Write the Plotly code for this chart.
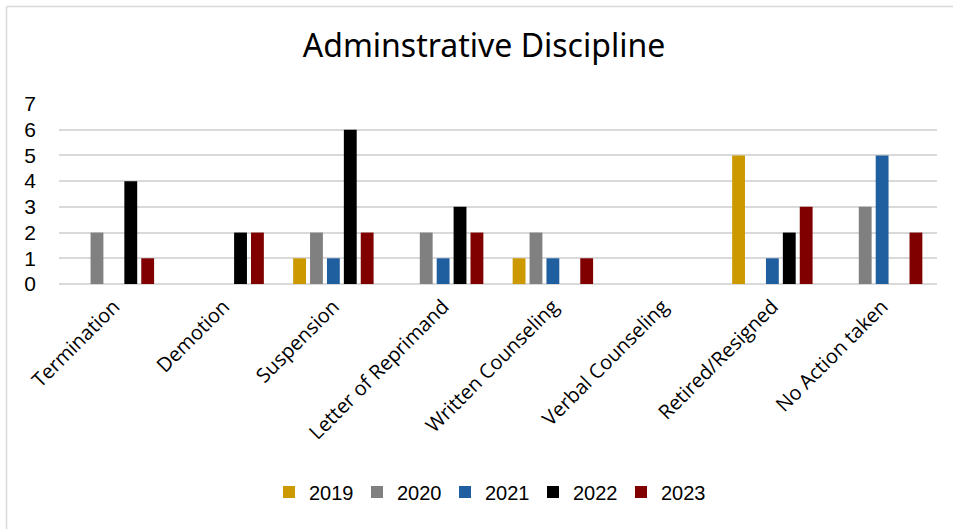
import plotly.graph_objects as go

# Disciplinary outcomes by category and year
categories = [
    "Termination",
    "Demotion",
    "Suspension",
    "Letter of Reprimand",
    "Written Counseling",
    "Verbal Counseling",
    "Retired/Resigned",
    "No Action taken",
]
years = ["2019", "2020", "2021", "2022", "2023"]
counts_2019 = [0, 0, 1, 0, 1, 0, 5, 0]
counts_2020 = [2, 0, 2, 2, 2, 0, 0, 3]
counts_2021 = [0, 0, 1, 1, 1, 0, 1, 5]
counts_2022 = [4, 2, 6, 3, 0, 0, 2, 0]
counts_2023 = [1, 2, 2, 2, 1, 0, 3, 2]
y_ticks = [0, 1, 2, 3, 4, 5, 6, 7]

series = [counts_2019, counts_2020, counts_2021, counts_2022, counts_2023]
colors = ["#cc9900", "#808080", "#1f5f9f", "#000000", "#800000"]

W, H = 954, 529
L, R, T, B = 59, 17, 104, 245

fig = go.Figure()
for year, vals, col in zip(years, series, colors):
    fig.add_trace(go.Bar(
        name=year, x=categories, y=vals,
        marker=dict(color=col, line=dict(width=0)),
    ))

pw = W - L - R
ph = H - T - B

def px_x(p):
    return (p - L) / pw

def px_y(p):
    return (H - B - p) / ph

# Chart frame: top and left edges
frame = dict(color="#d9d9d9", width=1.5)
shapes = [
    dict(type="line", xref="paper", yref="paper",
         x0=px_x(6.5), x1=px_x(953), y0=px_y(6.5), y1=px_y(6.5), line=frame),
    dict(type="line", xref="paper", yref="paper",
         x0=px_x(6.5), x1=px_x(6.5), y0=px_y(6.5), y1=px_y(529), line=frame),
]

fig.update_layout(
    width=W, height=H,
    margin=dict(l=L, r=R, t=T, b=B, pad=0),
    paper_bgcolor="white", plot_bgcolor="white",
    barmode="group", bargap=0.23, bargroupgap=0.24,
    title=dict(
        text="Adminstrative Discipline",
        xref="container", x=484 / W, xanchor="center",
        yref="container", y=1 - 46 / H, yanchor="middle",
        font=dict(family="Noto Sans, sans-serif", size=32, color="#000000"),
    ),
    xaxis=dict(
        tickangle=-45,
        tickfont=dict(family="Open Sans, sans-serif", size=20, color="#000000"),
        showgrid=False, showline=False, ticks="",
        zeroline=False, ticklabelstandoff=6,
    ),
    yaxis=dict(
        range=[0, 7], tickvals=y_ticks,
        tickfont=dict(family="Liberation Sans, Arial, sans-serif", size=21, color="#000000"),
        showgrid=True, gridcolor="#d9d9d9", gridwidth=1.5,
        zeroline=True, zerolinecolor="#d9d9d9", zerolinewidth=1.5,
        showline=False, ticks="", ticklabelstandoff=22,
    ),
    legend=dict(
        orientation="h", x=px_x(489), xanchor="center",
        y=px_y(492), yanchor="middle",
        font=dict(family="Liberation Sans, Arial, sans-serif", size=20, color="#000000"),
        itemwidth=30, entrywidth=43, traceorder="normal",
    ),
    shapes=shapes,
    showlegend=True,
)

fig.write_html("out.html")
